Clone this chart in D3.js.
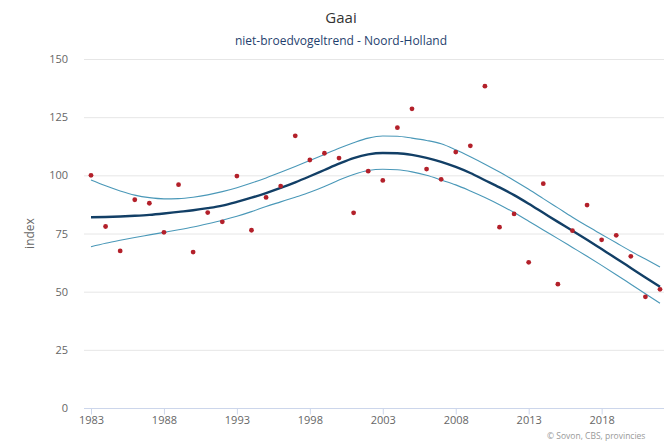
<!DOCTYPE html>
<html>
<head>
<meta charset="utf-8">
<script src="https://cdn.jsdelivr.net/npm/d3@7"></script>
<style>
  html, body { margin: 0; padding: 0; background: #fff; }
  svg { display: block; font-family: "Open Sans", "DejaVu Sans", sans-serif; }
</style>
</head>
<body>
<svg id="chart" width="664" height="442"></svg>
<script>
// ---- data ----
const years = d3.range(1983, 2023);
const indexValues = [100, 78, 67.5, 89.5, 88, 75.5, 96, 67, 84, 80,
  99.7, 76.4, 90.5, 95.4, 117, 106.6, 109.5, 107.4, 83.9, 101.8,
  97.8, 120.5, 128.6, 102.7, 98.3, 110, 112.7, 138.3, 77.7, 83.4,
  62.6, 96.4, 53.2, 76.2, 87.2, 72.3, 74.2, 65.2, 47.8, 51];
const trend = [82.0, 82.1, 82.3, 82.6, 83.0, 83.6, 84.3, 85.0, 85.9, 87.0,
  88.6, 90.4, 92.4, 94.6, 97.0, 99.6, 102.3, 105.0, 107.4, 109.0,
  109.6, 109.5, 108.8, 107.5, 105.8, 103.6, 101.0, 97.9, 94.8, 91.5,
  87.8, 83.9, 80.0, 76.2, 72.3, 68.3, 64.3, 60.2, 56.1, 52.1];
const upper = [98.0, 95.5, 93.3, 91.5, 90.4, 89.9, 90.0, 90.6, 91.6, 93.0,
  94.7, 96.7, 98.9, 101.3, 103.8, 106.4, 109.0, 111.6, 114.0, 116.0,
  116.9, 116.8, 116.0, 115.0, 113.6, 111.0, 108.0, 104.8, 101.4, 97.8,
  94.0, 90.0, 86.0, 82.0, 78.2, 74.6, 71.0, 67.4, 64.0, 60.6];
const lower = [69.3, 70.8, 72.1, 73.3, 74.4, 75.5, 76.6, 77.8, 79.2, 80.7,
  82.4, 84.4, 86.6, 88.6, 90.6, 92.7, 95.2, 98.0, 100.4, 102.1,
  102.6, 102.4, 101.5, 100.0, 98.0, 95.9, 93.3, 90.5, 87.4, 84.0,
  80.3, 76.5, 72.8, 69.0, 65.2, 61.3, 57.3, 53.2, 49.1, 45.0];
const yTicks = [0, 25, 50, 75, 100, 125, 150];
const xTicks = [1983, 1988, 1993, 1998, 2003, 2008, 2013, 2018];
const titleText = "Gaai";
const subtitleText = "niet-broedvogeltrend - Noord-Holland";
const yAxisTitle = "index";
const creditText = "© Sovon, CBS, provincies";

// ---- layout ----
const svg = d3.select("#chart");
const plotLeft = 84, plotRight = 664;
const x = d3.scaleLinear().domain([1983, 2022]).range([91, 660]);
const y = d3.scaleLinear().domain([0, 150]).range([408, 59]);

// title
svg.append("text").attr("x", 341).attr("y", 23).attr("text-anchor", "middle")
  .attr("font-size", 15).attr("fill", "#333").text(titleText);
svg.append("text").attr("x", 341).attr("y", 45).attr("text-anchor", "middle")
  .attr("font-size", 12).attr("fill", "#1f3f6e").text(subtitleText);

// grid
svg.append("g").selectAll("line").data(yTicks.filter(d => d > 0)).join("line")
  .attr("x1", plotLeft).attr("x2", plotRight)
  .attr("y1", d => y(d) + 0.5).attr("y2", d => y(d) + 0.5)
  .attr("stroke", "#e6e6e6").attr("stroke-width", 1);

// y labels
svg.append("g").selectAll("text").data(yTicks).join("text")
  .attr("x", 68).attr("y", d => y(d) + 4).attr("text-anchor", "end")
  .attr("font-size", 11).attr("fill", "#666").text(d => d);

svg.append("text").attr("transform", "translate(34," + y(75) + ") rotate(-90)")
  .attr("text-anchor", "middle").attr("font-size", 12).attr("fill", "#666").text(yAxisTitle);

// x axis
const xAxis = d3.axisBottom(x).tickValues(xTicks).tickFormat(d3.format("d")).tickSize(6).tickPadding(3).tickSizeOuter(0);
const gx = svg.append("g").attr("transform", "translate(0," + (y(0) + 0.5) + ")").call(xAxis);
gx.select(".domain").remove();
gx.selectAll(".tick line").attr("stroke", "#ccd6eb");
gx.selectAll(".tick text").attr("fill", "#666").attr("font-size", 11)
  .attr("font-family", "\"Open Sans\", \"DejaVu Sans\", sans-serif").attr("dy", "0.6em");
svg.append("line").attr("x1", plotLeft).attr("x2", plotRight)
  .attr("y1", y(0) + 0.5).attr("y2", y(0) + 0.5).attr("stroke", "#ccd6eb");

// lines
const line = arr => d3.line().x((d, i) => x(years[i])).y(d => y(d)).curve(d3.curveMonotoneX)(arr);
svg.append("path").attr("d", line(upper)).attr("fill", "none").attr("stroke", "#4a98b8").attr("stroke-width", 1.1);
svg.append("path").attr("d", line(lower)).attr("fill", "none").attr("stroke", "#4a98b8").attr("stroke-width", 1.1);
svg.append("path").attr("d", line(trend)).attr("fill", "none").attr("stroke", "#123f66").attr("stroke-width", 2.4);

// points
svg.append("g").selectAll("circle").data(indexValues).join("circle")
  .attr("cx", (d, i) => x(years[i])).attr("cy", d => y(d)).attr("r", 2.4)
  .attr("fill", "#b3202a");

// credit
svg.append("text").attr("x", 547).attr("y", 439).attr("font-size", 8.5).attr("fill", "#999").text(creditText);
</script>
</body>
</html>
